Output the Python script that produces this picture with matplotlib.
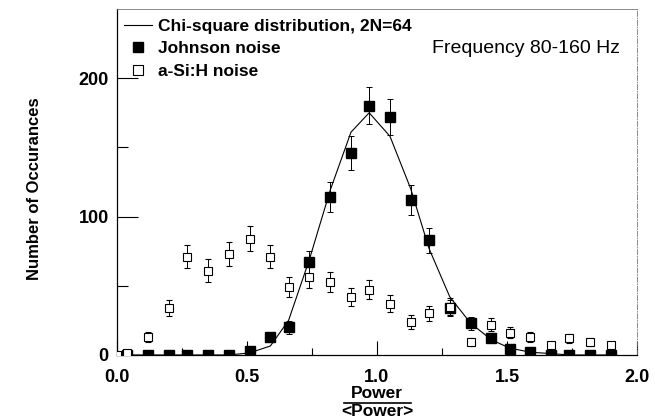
import matplotlib
matplotlib.use('Agg')
from matplotlib import pyplot as plt
from matplotlib.lines import Line2D
import numpy as np

plt.rcParams['font.family'] = ['Liberation Sans', 'DejaVu Sans']

# bin centres (Power / <Power>)
power = [0.04, 0.12, 0.20, 0.27, 0.35, 0.43, 0.51, 0.59, 0.66, 0.74, 0.82, 0.90, 0.97,
         1.05, 1.13, 1.20, 1.28, 1.36, 1.44, 1.51, 1.59, 1.67, 1.74, 1.82, 1.90]

# chi-square curve, 2N=64
chi_sq = [0, 0, 0, 0, 0, 0, 1.5, 6.5, 25, 69, 119, 161, 175,
          158, 120, 77, 42, 23, 11, 5, 2, 1, 0, 0, 0]

# Johnson noise histogram
johnson = [0, 0, 0, 0, 0, 0, 3, 13, 20, 67, 114, 146, 180,
           172, 112, 83, 34, 23, 12, 4, 2, 0, 0, 0, 0]
johnson_err = [0, 0, 0, 0, 0, 0, 1.7, 3.6, 4.5, 8.2, 10.7, 12.1, 13.4,
               13.1, 10.6, 9.1, 5.8, 4.8, 3.5, 2, 1.4, 0, 0, 0, 0]

# a-Si:H noise histogram (has an extra bin at 0)
asi_power = [0.0] + power
asi = [0, 1.5, 13, 34, 71, 61, 73, 84, 71, 49, 56, 53, 42, 47,
       37, 24, 30, 35, 9.5, 22, 16, 13, 7, 12, 9.5, 7]
asi_err = [0, 1.5, 3.5, 6, 8.5, 8, 8.5, 9, 8.5, 7, 7.5, 7.3, 6.5, 6.9,
           6, 5, 5.5, 6, 3, 4.7, 4, 3.6, 2.6, 3.5, 3, 2.6]

fig = plt.figure(figsize=(6.55, 4.2), dpi=100)
ax = fig.add_axes([0.1786, 0.1548, 0.7939, 0.8238])

ax.plot(power, chi_sq, '-', color='black', lw=0.8, zorder=2)
ax.errorbar(power, johnson, yerr=johnson_err, fmt='s', color='black', ms=6.5,
            mfc='black', mec='black', ecolor='black', elinewidth=0.7,
            capsize=2.5, capthick=0.7, zorder=3)
ax.errorbar(asi_power, asi, yerr=asi_err, fmt='s', color='black', ms=6,
            mfc='white', mec='black', mew=0.8, ecolor='black', elinewidth=0.7,
            capsize=2.5, capthick=0.7, zorder=4)

ax.set_xlim(0, 2.0)
ax.set_ylim(0, 250)
ax.set_xticks([0.0, 0.5, 1.0, 1.5, 2.0])
ax.set_xticklabels(['0.0', '0.5', '1.0', '1.5', '2.0'])
ax.set_xticks([0.25, 0.75, 1.25, 1.75], minor=True)
ax.set_yticks([0, 100, 200])
ax.set_yticks([50, 150], minor=True)

ax.tick_params(axis='x', which='major', direction='in', length=10, width=0.8,
               pad=10, labelsize=13)
ax.tick_params(axis='x', which='minor', direction='in', length=5, width=0.8)
ax.tick_params(axis='y', which='major', direction='in', length=15, width=0.8,
               pad=6, labelsize=13)
ax.tick_params(axis='y', which='minor', direction='in', length=8, width=0.8)
ax.tick_params(top=False, right=False)
for lab in ax.get_xticklabels() + ax.get_yticklabels():
    lab.set_fontweight('bold')

ax.spines['left'].set_linewidth(0.9)
ax.spines['bottom'].set_linewidth(0.9)
ax.spines['top'].set_linewidth(0.6)
ax.spines['top'].set_color('#777777')
ax.spines['right'].set_linewidth(0.6)
ax.spines['right'].set_color('#777777')
ax.spines['right'].set_linestyle((0, (6, 2, 1, 2)))

handles = [
    Line2D([], [], color='black', lw=0.8),
    Line2D([], [], ls='none', marker='s', ms=7, mfc='black', mec='black'),
    Line2D([], [], ls='none', marker='s', ms=7, mfc='white', mec='black', mew=0.8),
]
labels = ['Chi-square distribution, 2N=64', 'Johnson noise', 'a-Si:H noise']
ax.legend(handles, labels, loc='upper left', bbox_to_anchor=(-0.005, 1.0),
          frameon=False, handlelength=1.6, handletextpad=0.35, labelspacing=0.42,
          borderaxespad=0.15, prop={'size': 12.5, 'weight': 'bold'})

ax.text(0.968, 0.885, 'Frequency 80-160 Hz', transform=ax.transAxes,
        ha='right', va='center', fontsize=14)

fig.text(0.053, 0.55, 'Number of Occurances', rotation=90, ha='center',
         va='center', fontsize=12, fontweight='bold')

# x label drawn as a fraction
fig.text(0.5756, 0.062, 'Power', ha='center', va='center', fontsize=12.5,
         fontweight='bold')
fig.add_artist(Line2D([0.525, 0.627], [0.040, 0.040], color='black', lw=1.2,
                      transform=fig.transFigure))
fig.text(0.5756, 0.021, '<Power>', ha='center', va='center', fontsize=12.5,
         fontweight='bold')

fig.savefig('out.png', dpi=100)
